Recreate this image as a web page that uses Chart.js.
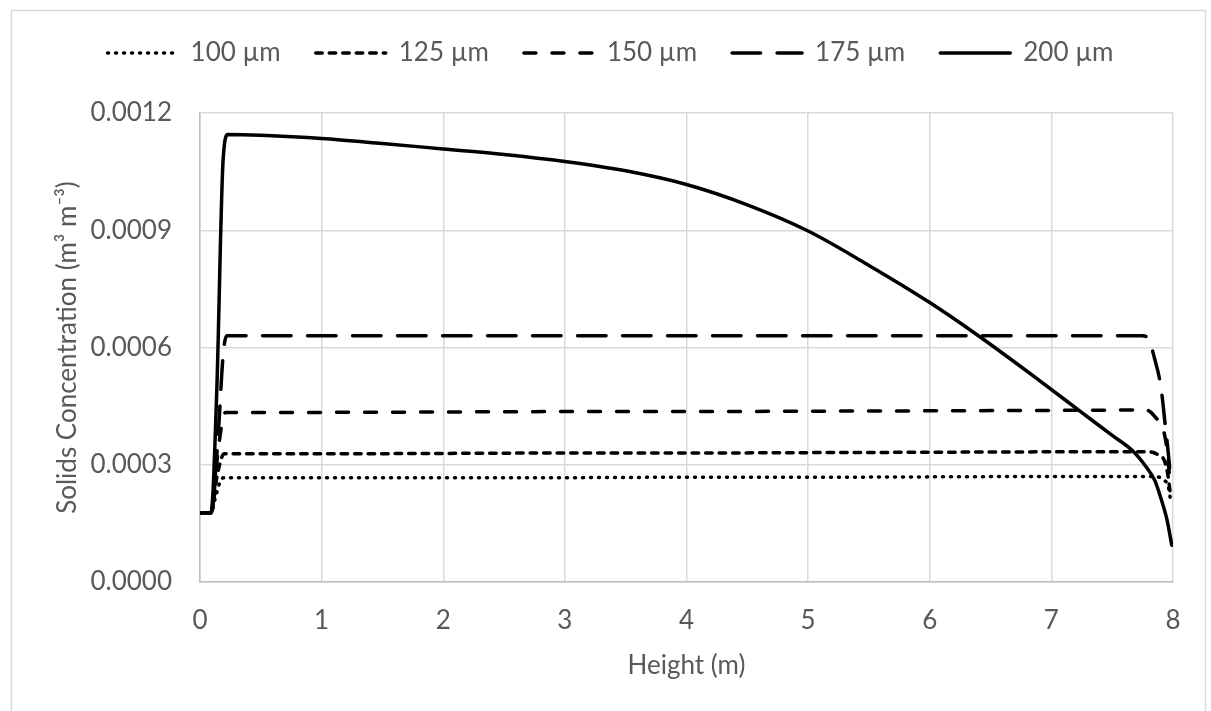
<!DOCTYPE html>
<html>
<head>
<meta charset="utf-8">
<title>Solids Concentration</title>
<script src="https://cdn.jsdelivr.net/npm/chart.js@4.4.1/dist/chart.umd.min.js"></script>
<style>
  body { margin: 0; background: #fff; }
  #wrap { width: 1211px; height: 711px; }
</style>
</head>
<body>
<div id="wrap"><canvas id="myChart"></canvas></div>
<script>

// Perfiles de concentracion por tamano de particula (altura en m, concentracion en m3/m3)
const height100 = [0, 0.09, 0.13, 0.17, 0.2, 1, 2, 3, 4, 5, 6, 7, 7.85, 7.92, 7.96, 7.98];
const conc100   = [0.000177, 0.000177, 0.00022, 0.00026, 0.000267, 0.000267, 0.000267, 0.000267, 0.000268, 0.000268, 0.000269, 0.00027, 0.00027, 0.000262, 0.000245, 0.00021];

const height125 = [0, 0.09, 0.14, 0.18, 0.2, 1, 2, 3, 4, 5, 6, 7, 7.8, 7.88, 7.93, 7.96, 7.98];
const conc125   = [0.000177, 0.000177, 0.00027, 0.00032, 0.000328, 0.000328, 0.000329, 0.00033, 0.00033, 0.000331, 0.000332, 0.000333, 0.000333, 0.000325, 0.00031, 0.00027, 0.00022];

const height150 = [0, 0.09, 0.15, 0.19, 0.21, 1, 2, 3, 4, 5, 6, 7, 7.78, 7.86, 7.92, 7.95, 7.98];
const conc150   = [0.000177, 0.000177, 0.00034, 0.00042, 0.000434, 0.000434, 0.000435, 0.000436, 0.000436, 0.000437, 0.000438, 0.000439, 0.00044, 0.00042, 0.00039, 0.00034, 0.00024];

const height175 = [0, 0.09, 0.15, 0.19, 0.22, 1, 2, 3, 4, 5, 6, 7, 7.75, 7.8, 7.85, 7.9, 7.94, 7.97, 7.98];
const conc175   = [0.000177, 0.000177, 0.00038, 0.00058, 0.00063, 0.00063, 0.00063, 0.00063, 0.00063, 0.00063, 0.00063, 0.00063, 0.00063, 0.00062, 0.00057, 0.0005, 0.00039, 0.0003, 0.00025];

const height200 = [0, 0.09, 0.137, 0.19, 0.23, 0.5, 1, 1.5, 2, 2.5, 3, 3.5, 4, 4.5, 5, 5.5, 6, 6.4, 6.9, 7.24, 7.5, 7.67, 7.78, 7.85, 7.9, 7.95, 7.99];
const conc200   = [0.000177, 0.000177, 0.00048, 0.00108, 0.001145, 0.001143, 0.001135, 0.001122, 0.001108, 0.001094, 0.001076, 0.001052, 0.001017, 0.000965, 0.000898, 0.00081, 0.000715, 0.00063, 0.000516, 0.000436, 0.000375, 0.000335, 0.000294, 0.00026, 0.000215, 0.00016, 0.000094];

const seriesNames = ['100 µm', '125 µm', '150 µm', '175 µm', '200 µm'];

// Ejes
const xMin = 0, xMax = 8, xStep = 1;
const yMin = 0, yMax = 0.0012, yStep = 0.0003;

const toPoints = (xs, ys) => xs.map((x, i) => ({ x: x, y: ys[i] }));

const textColor = '#595959';
const gridColor = '#d9d9d9';
const fontFamily = 'Lato, "Open Sans", sans-serif';
const fontSize = 26;

// Estilo de cada linea: punteado, guiones cortos, guiones, guiones largos, continua
const lineStyles = [
    { dash: [1, 7], width: 3.5 },
    { dash: [6.5, 7], width: 3.5 },
    { dash: [12, 16], width: 3.5 },
    { dash: [28.5, 16.5], width: 3.5 },
    { dash: [], width: 3.5 }
];

const seriesData = [
    toPoints(height100, conc100),
    toPoints(height125, conc125),
    toPoints(height150, conc150),
    toPoints(height175, conc175),
    toPoints(height200, conc200)
];

const datasets = seriesData.map((pts, i) => ({
    label: seriesNames[i],
    data: pts,
    showLine: true,
    borderColor: '#000000',
    backgroundColor: '#000000',
    borderWidth: lineStyles[i].width,
    borderDash: lineStyles[i].dash,
    borderCapStyle: 'round',
    borderJoinStyle: 'round',
    pointRadius: 0,
    cubicInterpolationMode: 'monotone'
}));

// Marco gris alrededor del grafico
const chartFrame = {
    id: 'chartFrame',
    beforeDraw(chart) {
        const c = chart.ctx;
        c.save();
        c.fillStyle = '#ffffff';
        c.fillRect(0, 0, chart.width, chart.height);
        c.strokeStyle = gridColor;
        c.lineWidth = 1.5;
        c.strokeRect(11.5, 10.5, 1194, 720);
        c.restore();
    }
};

// Espacio extra entre la leyenda y el area del grafico
const legendGap = {
    id: 'legendGap',
    beforeInit(chart) {
        const fit = chart.legend.fit;
        chart.legend.fit = function () {
            fit.call(this);
            this.height += 37;
        };
    }
};

// La leyenda toma el estilo del punto; se le pasa el trazo de la linea
const legendLabels = (chart) => {
    const items = Chart.defaults.plugins.legend.labels.generateLabels(chart);
    items.forEach((item) => {
        const ds = chart.data.datasets[item.datasetIndex];
        item.lineDash = ds.borderDash;
        item.lineCap = 'round';
        item.lineWidth = ds.borderWidth;
        item.strokeStyle = ds.borderColor;
    });
    return items;
};

const ctx = document.getElementById('myChart');

const myChart = new Chart(ctx, {
    type: 'scatter',
    data: { datasets: datasets },
    plugins: [chartFrame, legendGap],
    options: {
        responsive: true,
        maintainAspectRatio: false,
        animation: false,
        layout: {
            padding: { top: 5, left: 48, right: 38, bottom: 26 }
        },
        plugins: {
            legend: {
                position: 'top',
                labels: {
                    usePointStyle: true,
                    pointStyle: 'line',
                    pointStyleWidth: 70,
                    padding: 35,
                    color: textColor,
                    font: { family: fontFamily, size: fontSize },
                    generateLabels: legendLabels
                }
            },
            tooltip: { enabled: false }
        },
        scales: {
            x: {
                type: 'linear',
                min: xMin,
                max: xMax,
                afterFit: (scale) => { scale.height = 103; },
                ticks: {
                    stepSize: xStep,
                    padding: 23,
                    color: textColor,
                    font: { family: fontFamily, size: fontSize }
                },
                grid: { color: gridColor, lineWidth: 1.5, drawTicks: false },
                border: { color: '#bfbfbf', width: 1.5 },
                title: {
                    display: true,
                    text: 'Height (m)',
                    color: textColor,
                    padding: { top: 4, bottom: 4 },
                    font: { family: fontFamily, size: fontSize }
                }
            },
            y: {
                type: 'linear',
                min: yMin,
                max: yMax,
                afterFit: (scale) => { scale.width = 152; },
                ticks: {
                    stepSize: yStep,
                    padding: 28,
                    color: textColor,
                    font: { family: fontFamily, size: fontSize },
                    callback: (value) => Number(value).toFixed(4)
                },
                grid: { color: gridColor, lineWidth: 1.5, drawTicks: false },
                border: { color: '#bfbfbf', width: 1.5 },
                title: {
                    display: true,
                    text: 'Solids Concentration (m³ m⁻³)',
                    color: textColor,
                    padding: { top: 4, bottom: 4 },
                    font: { family: fontFamily, size: fontSize }
                }
            }
        }
    }
});

</script>
</body>
</html>
